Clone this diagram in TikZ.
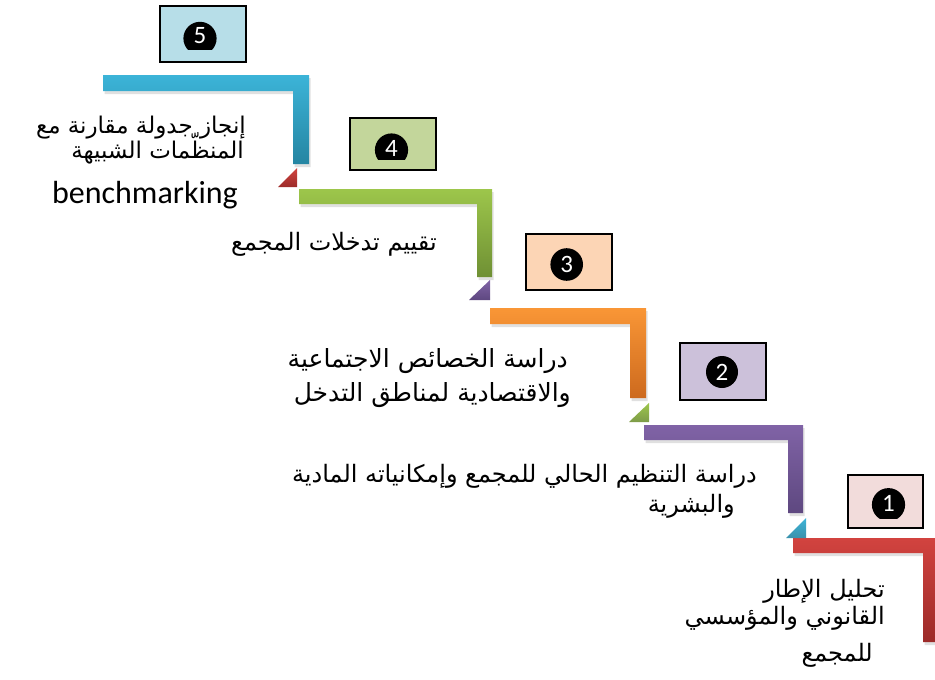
\documentclass[tikz,border=0pt]{standalone}
\usepackage{fontspec}
\setmainfont{Liberation Sans}
\newfontfamily\arabicfont[Script=Arabic]{DejaVu Sans}
\newfontfamily\calib{Carlito}
\TeXXeTstate=1
\definecolor{bfive}{HTML}{B7DEE8}
\definecolor{bfour}{HTML}{C3D69B}
\definecolor{bthree}{HTML}{FCD5B5}
\definecolor{btwo}{HTML}{CCC1DA}
\definecolor{bone}{HTML}{F2DCDB}
\definecolor{bluea}{HTML}{3CB4D8}
\definecolor{blueb}{HTML}{2585A2}
\definecolor{greena}{HTML}{9DC64B}
\definecolor{greenb}{HTML}{6F9034}
\definecolor{orangea}{HTML}{F99636}
\definecolor{orangeb}{HTML}{CD6A1E}
\definecolor{purplea}{HTML}{8063A6}
\definecolor{purpleb}{HTML}{5E4880}
\definecolor{reda}{HTML}{D2433F}
\definecolor{redb}{HTML}{9C2B29}
\tikzset{
  numbox/.style={draw=black, line width=1.3pt, inner sep=0pt},
  digit/.style={text=white, inner sep=0pt, font=\calib\fontsize{25}{25}\selectfont},
  ar/.style={inner sep=0pt, anchor=base east, font=\arabicfont\fontsize{24}{28}\selectfont},
  arsmall/.style={ar, font=\arabicfont\fontsize{23}{26}\selectfont},
  shad/.style={fill=black, opacity=0.12},
}
\begin{document}
\begin{tikzpicture}[x=1pt,y=-1pt]
\useasboundingbox (0,0) rectangle (935,680);
% ---- steps (L shapes) ----
\def\stepL#1#2#3#4#5#6#7#8{%
  \fill[shad] ([shift={(1.5,3)}]#1,#3) -- ([shift={(1.5,3)}]#2,#3) -- ([shift={(1.5,3)}]#2,#6) -- ([shift={(1.5,3)}]#2-#5,#6) -- ([shift={(1.5,3)}]#2-#5,#3+#4) -- ([shift={(1.5,3)}]#1,#3+#4) -- cycle;
  \shade[top color=#7, bottom color=#8] (#1,#3) -- (#2,#3) -- (#2,#6) -- (#2-#5,#6) -- (#2-#5,#3+#4) -- (#1,#3+#4) -- cycle;}
\stepL{103}{309}{75}{16}{16}{164}{bluea}{blueb}
\stepL{299}{492}{189}{15}{15}{277}{greena}{greenb}
\stepL{490}{646}{308}{16}{16}{398}{orangea}{orangeb}
\stepL{644}{803}{425}{15}{15}{513}{purplea}{purpleb}
\stepL{793}{938}{538}{15}{15}{642}{reda}{redb}
% ---- small triangles ----
\shade[top color=reda, bottom color=redb] (278,187) -- (297,187) -- (297,168) -- cycle;
\shade[top color=purplea, bottom color=purpleb] (469,300) -- (490,300) -- (490,280) -- cycle;
\shade[top color=greena, bottom color=greenb!90] (629,422) -- (649,422) -- (649,403) -- cycle;
\shade[top color=bluea, bottom color=blueb!90] (786,538) -- (806,538) -- (806,518) -- cycle;
% ---- number boxes ----
\node[numbox, fill=bfive, minimum width=86, minimum height=56] (b5) at (203,34) {};
\node[numbox, fill=bfour, minimum width=86, minimum height=52] (b4) at (393,144) {};
\node[numbox, fill=bthree, minimum width=86, minimum height=56] (b3) at (569,262) {};
\node[numbox, fill=btwo, minimum width=86, minimum height=57] (b2) at (723,371.5) {};
\node[numbox, fill=bone, minimum width=75, minimum height=53] (b1) at (885.5,501.5) {};
\begin{scope}\clip (150,0) rectangle (250,49.3); \fill (200,38.4) circle (16.6); \end{scope}
\begin{scope}\clip (340,100) rectangle (440,159.3); \fill (391.5,150) circle (16.6); \end{scope}
\begin{scope}\clip (520,230) rectangle (620,280); \fill (566.7,264.5) circle (16.3); \end{scope}
\begin{scope}\clip (670,340) rectangle (770,388); \fill (722,372) circle (16); \end{scope}
\begin{scope}\clip (840,470) rectangle (930,518); \fill (888.5,504.7) circle (16.6); \end{scope}
\node[digit] (d5) at (200,36) {5};
\node[digit] (d4) at (391.5,148) {4};
\node[digit] (d3) at (566.7,264) {3};
\node[digit] (d2) at (722,372) {2};
\node[digit] (d1) at (888.5,503) {1};
% ---- texts ----
\node[arsmall] (t5a) at (246,133) {\beginR إنجاز جدولة مقارنة مع\endR};
\node[arsmall] (t5b) at (244,158) {\beginR المنظّمات الشبيهة\endR};
\node[inner sep=0pt, anchor=base east, font=\calib\fontsize{32}{32}\selectfont] (t5c) at (238,203) {benchmarking};
\node[ar] (t4) at (437,250) {\beginR تقييم تدخلات المجمع\endR};
\node[ar, font=\arabicfont\fontsize{25}{28}\selectfont] (t3a) at (568,367) {\beginR دراسة الخصائص الاجتماعية\endR};
\node[ar, font=\arabicfont\fontsize{25}{28}\selectfont] (t3b) at (571,401) {\beginR والاقتصادية لمناطق التدخل\endR};
\node[ar] (t2a) at (757,482) {\beginR دراسة التنظيم الحالي للمجمع وإمكانياته المادية\endR};
\node[ar] (t2b) at (735,512) {\beginR والبشرية\endR};
\node[ar] (t1a) at (885,597) {\beginR تحليل الإطار\endR};
\node[ar] (t1b) at (885,624) {\beginR القانوني والمؤسسي\endR};
\node[ar] (t1c) at (873,661) {\beginR للمجمع\endR};
\end{tikzpicture}
\end{document}
